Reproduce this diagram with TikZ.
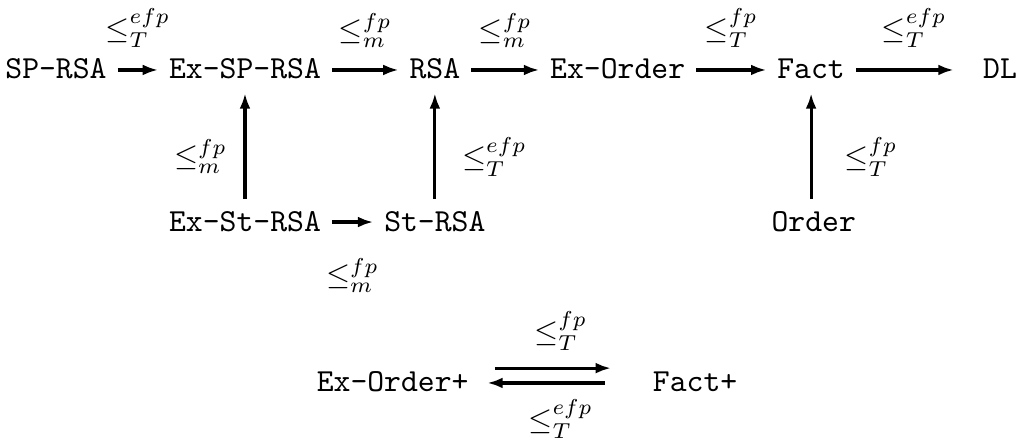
\documentclass[tikz,border=0pt]{standalone}
\usepackage{tikz}
\usetikzlibrary{arrows.meta,positioning}

\tikzset{
  cls/.style={font=\ttfamily\fontsize{10.4}{12}\selectfont, text height=1.6ex, text depth=0.25ex},
  red/.style={-{Latex[length=5pt,width=3.5pt]}, line width=1pt},
}

\begin{document}
\begin{tikzpicture}[on grid, font=\fontsize{10.4}{12}\selectfont]
        \useasboundingbox (-0.637,-4.289) rectangle (10.978,0.796);
        % top row
        \node[cls] (sprsa) {SP-RSA};
        \node[cls, right=2.15cm of sprsa] (exsprsa) {Ex-SP-RSA};
        \node[cls, right=2.16cm of exsprsa] (rsa) {RSA};
        \node[cls, right=2.08cm of rsa] (exorder) {Ex-Order};
        \node[cls, right=2.20cm of exorder] (fact) {Fact};
        \node[cls, right=2.15cm of fact] (dl) {DL};
        % middle row
        \node[cls, below=1.73cm of exsprsa] (exstrsa) {Ex-St-RSA};
        \node[cls, below=1.73cm of rsa] (strsa) {St-RSA};
        \node[cls, below=1.73cm of fact, xshift=0.03cm] (order) {Order};
        % bottom row
        \node[cls, below=1.82cm of strsa, xshift=-0.48cm] (exorderp) {Ex-Order+};
        \node[cls, right=3.44cm of exorderp] (factp) {Fact+};
        \draw[red] (sprsa) -- node[above=3.5pt] {$\leq_T^{efp}$} (exsprsa);
        \draw[red] (exsprsa) -- node[above=3.5pt] {$\leq_m^{fp}$} (rsa);
        \draw[red] (rsa) -- node[above=3.5pt] {$\leq_m^{fp}$} (exorder);
        \draw[red] (exorder) -- node[above=3.5pt] {$\leq_T^{fp}$} (fact);
        \draw[red, shorten >=6pt] (fact) -- node[above=3.5pt] {$\leq_T^{efp}$} (dl);
        \draw[red] (exstrsa) -- node[left=2pt, pos=0.4] {$\leq_m^{fp}$} (exsprsa);
        \draw[red] (strsa) -- node[right=5pt, pos=0.4] {$\leq_T^{efp}$} (rsa);
        \draw[red] (order.north -| fact) -- node[right=7pt, pos=0.4] {$\leq_T^{fp}$} (fact);
        \draw[red] (exstrsa) -- node[below=8pt] {$\leq_m^{fp}$} (strsa);
        \draw[red, shorten <=5pt, shorten >=10pt] ([yshift=4.5pt]exorderp.east) -- node[above=2pt] {$\leq_T^{fp}$} ([yshift=4.5pt]factp.west);
        \draw[red, shorten <=12pt, shorten >=2.5pt] ([yshift=-0.3pt]factp.west) -- node[below=1.5pt] {$\leq_T^{efp}$} ([yshift=-0.3pt]exorderp.east);
      \end{tikzpicture}
\end{document}
